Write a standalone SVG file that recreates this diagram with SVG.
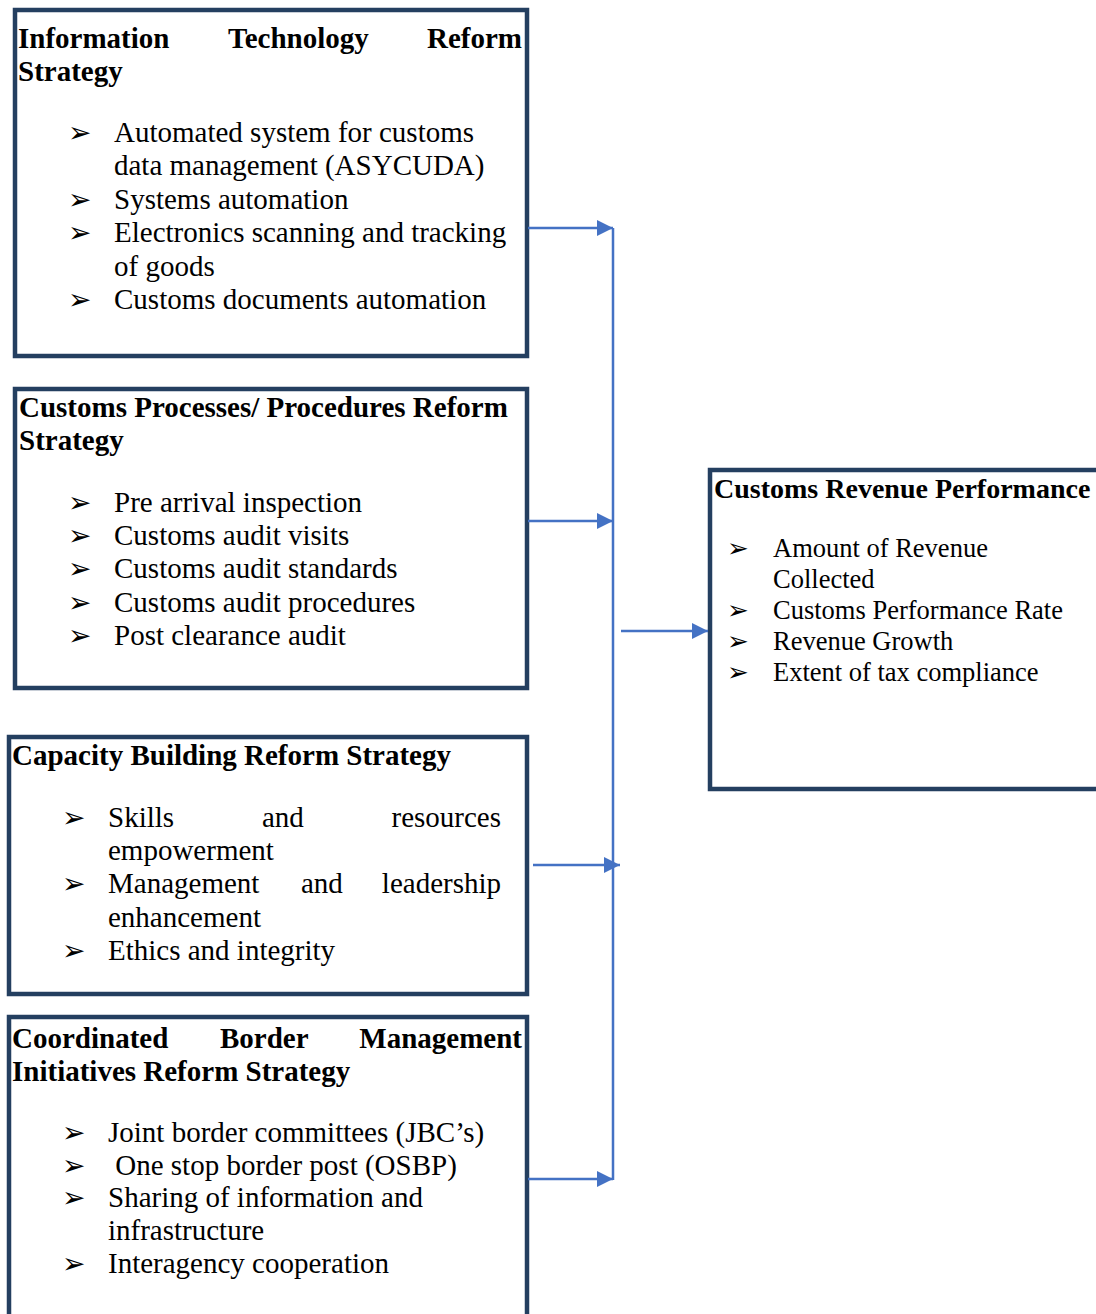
<svg xmlns="http://www.w3.org/2000/svg" width="1096" height="1314" viewBox="0 0 1096 1314">
<defs>
<style>
.box{fill:#fff;stroke:#243F60;stroke-width:4.5}
.h{font-family:"Liberation Serif","Times New Roman",serif;font-weight:bold;font-size:29px;fill:#000}
.t{font-family:"Liberation Serif","Times New Roman",serif;font-size:29px;fill:#000}
.h5{font-family:"Liberation Serif","Times New Roman",serif;font-weight:bold;font-size:28px;fill:#000}
.t5{font-family:"Liberation Serif","Times New Roman",serif;font-size:26.5px;fill:#000}
.b{font-family:"DejaVu Sans",sans-serif;font-size:28px;fill:#000}
.b5{font-family:"DejaVu Sans",sans-serif;font-size:26px;fill:#000}
.c{fill:none;stroke:#4472C4;stroke-width:2.5}
</style>
<marker id="ah" viewBox="0 0 16 16" refX="16" refY="8" markerWidth="16" markerHeight="16" markerUnits="userSpaceOnUse" orient="auto">
<path d="M0,0 L16,8 L0,16 z" fill="#4472C4"/>
</marker>
</defs>
<rect width="1096" height="1314" fill="#fff"/>

<g id="node-it">
<rect class="box" x="15" y="10" width="512" height="346"/>
<text class="h" x="18" y="48">Information</text>
<text class="h" x="228" y="48">Technology</text>
<text class="h" x="522" y="48" text-anchor="end">Reform</text>
<text class="h" x="18" y="81">Strategy</text>
<text class="b" x="68" y="142">➢</text><text class="t" x="114" y="142">Automated system for customs</text>
<text class="t" x="114" y="175">data management (ASYCUDA)</text>
<text class="b" x="68" y="209">➢</text><text class="t" x="114" y="209">Systems automation</text>
<text class="b" x="68" y="242">➢</text><text class="t" x="114" y="242">Electronics scanning and tracking</text>
<text class="t" x="114" y="276">of goods</text>
<text class="b" x="68" y="309">➢</text><text class="t" x="114" y="309">Customs documents automation</text>
</g>

<g id="node-proc">
<rect class="box" x="15" y="389" width="512" height="299"/>
<text class="h" x="19" y="417">Customs Processes/ Procedures Reform</text>
<text class="h" x="19" y="450">Strategy</text>
<text class="b" x="68" y="512">➢</text><text class="t" x="114" y="512">Pre arrival inspection</text>
<text class="b" x="68" y="545">➢</text><text class="t" x="114" y="545">Customs audit visits</text>
<text class="b" x="68" y="578">➢</text><text class="t" x="114" y="578">Customs audit standards</text>
<text class="b" x="68" y="612">➢</text><text class="t" x="114" y="612">Customs audit procedures</text>
<text class="b" x="68" y="645">➢</text><text class="t" x="114" y="645">Post clearance audit</text>
</g>

<g id="node-cap">
<rect class="box" x="9" y="737" width="518" height="257"/>
<text class="h" x="12" y="765">Capacity Building Reform Strategy</text>
<text class="b" x="62" y="827">➢</text><text class="t" x="108" y="827">Skills</text>
<text class="t" x="262" y="827">and</text>
<text class="t" x="501" y="827" text-anchor="end">resources</text>
<text class="t" x="108" y="860">empowerment</text>
<text class="b" x="62" y="893">➢</text><text class="t" x="108" y="893">Management</text>
<text class="t" x="301" y="893">and</text>
<text class="t" x="501" y="893" text-anchor="end">leadership</text>
<text class="t" x="108" y="927">enhancement</text>
<text class="b" x="62" y="960">➢</text><text class="t" x="108" y="960">Ethics and integrity</text>
</g>

<g id="node-cbm">
<rect class="box" x="9" y="1017" width="518" height="320"/>
<text class="h" x="12" y="1048">Coordinated</text>
<text class="h" x="220" y="1048">Border</text>
<text class="h" x="522" y="1048" text-anchor="end">Management</text>
<text class="h" x="12" y="1081">Initiatives Reform Strategy</text>
<text class="b" x="62" y="1142">➢</text><text class="t" x="108" y="1142">Joint border committees (JBC’s)</text>
<text class="b" x="62" y="1175">➢</text><text class="t" x="108" y="1175" xml:space="preserve"> One stop border post (OSBP)</text>
<text class="b" x="62" y="1207">➢</text><text class="t" x="108" y="1207">Sharing of information and</text>
<text class="t" x="108" y="1240">infrastructure</text>
<text class="b" x="62" y="1273">➢</text><text class="t" x="108" y="1273">Interagency cooperation</text>
</g>

<g id="node-rev">
<rect class="box" x="710" y="470" width="400" height="319"/>
<text class="h5" x="714" y="498">Customs Revenue Performance</text>
<text class="b5" x="727" y="557">➢</text><text class="t5" x="773" y="557">Amount of Revenue</text>
<text class="t5" x="773" y="588">Collected</text>
<text class="b5" x="727" y="619">➢</text><text class="t5" x="773" y="619">Customs Performance Rate</text>
<text class="b5" x="727" y="650">➢</text><text class="t5" x="773" y="650">Revenue Growth</text>
<text class="b5" x="727" y="681">➢</text><text class="t5" x="773" y="681">Extent of tax compliance</text>
</g>

<g id="connectors">
<line class="c" x1="613" y1="228" x2="613" y2="1180"/>
<line class="c" x1="528" y1="228" x2="613" y2="228" marker-end="url(#ah)"/>
<line class="c" x1="528" y1="521" x2="613" y2="521" marker-end="url(#ah)"/>
<line class="c" x1="533" y1="865" x2="620" y2="865" marker-end="url(#ah)"/>
<line class="c" x1="528" y1="1179" x2="613" y2="1179" marker-end="url(#ah)"/>
<line class="c" x1="621" y1="631" x2="708" y2="631" marker-end="url(#ah)"/>
</g>
</svg>
